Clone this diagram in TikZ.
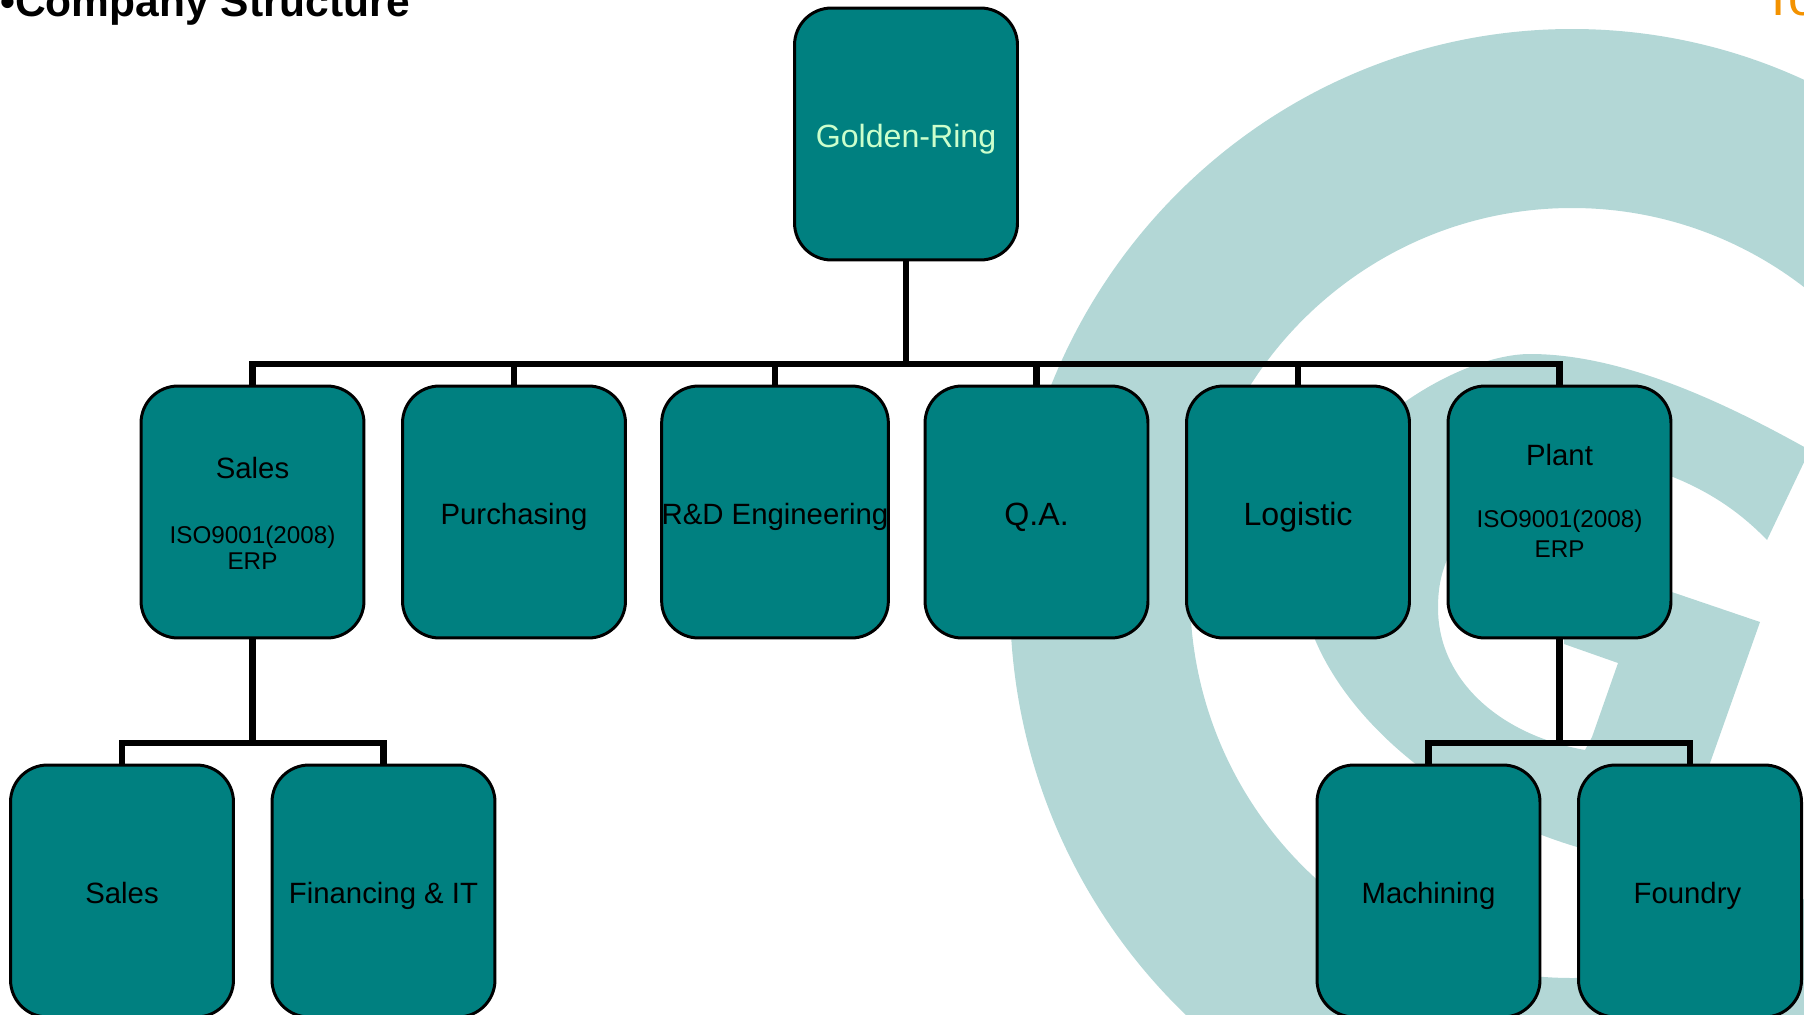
\documentclass[tikz,border=0pt]{standalone}
\usepackage{fontspec}
\setmainfont{Liberation Sans}
\definecolor{boxteal}{HTML}{008080}
\definecolor{logoteal}{HTML}{B3D7D6}
\definecolor{titleorange}{HTML}{F39200}
\definecolor{rootgreen}{HTML}{CCFFCC}
\newcommand{\isofont}{\fontsize{13.8}{15}\selectfont}
\tikzset{
	orgbox/.style = {draw = black, line width = 1.7pt, fill = boxteal, rounded corners = 0.74cm,
		minimum width = 4.46cm, minimum height = 5.04cm, inner sep = 0pt, align = center, font = \fontsize{16.7}{20}\selectfont},
	onelinebox/.style = {orgbox, text height = 13.8pt, text depth = 0pt},
	largetext/.style = {font = \fontsize{18.3}{22}\selectfont, text height = 15.2pt},
	buslink/.style = {draw = black, line width = 3.6pt, line join = miter}
}
\begin{document}
\begin{tikzpicture}[x = 0.02cm, y = -0.02cm]
	%	page setup
	\def\pagew{1804}
	\def\pageh{1014}
	\def\rowone{134}
	\def\rowtwo{512}
	\def\rowthree{891}

	\useasboundingbox (0, 0) rectangle (\pagew, \pageh);
	\clip (0, 0) rectangle (\pagew, \pageh);

	%	logo
	\fill[logoteal, even odd rule] (1572, 600) ellipse (562 and 571) (1572, 593) ellipse (382 and 385);
	\fill[logoteal] (1806, 448) .. controls (1720, 400) and (1620, 354) .. (1530, 354)
		.. controls (1450, 354) and (1300, 450) .. (1300, 570)
		.. controls (1300, 680) and (1420, 800) .. (1577, 847)
		-- (1690, 847) -- (1710, 763) -- (1760, 622) -- (1660, 588) -- (1640, 610) -- (1564, 610)
		-- (1564, 644) -- (1618, 663) -- (1592, 737) -- (1585, 750)
		.. controls (1500, 735) and (1438, 680) .. (1438, 608)
		.. controls (1438, 585) and (1442, 570) .. (1450, 553)
		-- (1560, 450) -- (1673, 477)
		.. controls (1710, 492) and (1740, 512) .. (1767, 540)
		-- (1806, 458) -- cycle;

	%	title
	\node[anchor = base west, inner sep = 0pt, font = \fontsize{24.2}{28}\bfseries\selectfont] (title) at (0, 16) {•Company Structure};
	\node[anchor = base west, inner sep = 0pt, text = titleorange, font = \fontsize{30}{34}\selectfont] (corner) at (1762, 15) {To};

	%	boxes
	\node[onelinebox, largetext, text = rootgreen] (root) at (906, \rowone) {Golden-Ring};

	\node[orgbox] (sales) at (252.5, \rowtwo) {\rule{0pt}{14pt}Sales\\[17pt]\isofont ISO9001(2008)\\[-5pt]\isofont ERP};
	\node[onelinebox] (purchasing) at (514, \rowtwo) {Purchasing};
	\node[onelinebox] (rd) at (775, \rowtwo) {R\&D Engineering};
	\node[onelinebox, largetext] (qa) at (1036.5, \rowtwo) {Q.A.};
	\node[onelinebox, largetext] (logistic) at (1298, \rowtwo) {Logistic};
	\node[orgbox] (plant) at (1559.5, \rowtwo) {Plant\\[15.5pt]\isofont ISO9001(2008)\\[-3pt]\isofont ERP\\[-7pt]\mbox{}};

	\node[onelinebox] (subsales) at (122, \rowthree) {Sales};
	\node[onelinebox] (financing) at (383.5, \rowthree) {Financing \& IT};
	\node[onelinebox] (machining) at (1428.5, \rowthree) {Machining};
	\node[onelinebox] (foundry) at (1690, \rowthree) {Foundry\hspace{3pt}};

	%	connectors
	\coordinate (busone) at (906, 364);
	\coordinate (bustwo) at (252.5, 743);
	\coordinate (busthree) at (1559.5, 743);

	\draw[buslink] (root.south) -- (busone);
	\draw[buslink] (sales.north) |- (busone) -| (plant.north);
	\foreach \target in {purchasing, rd, qa, logistic}
		\draw[buslink] (\target.north) -- (\target.north |- busone);

	\draw[buslink] (sales.south) -- (bustwo);
	\draw[buslink] (subsales.north) |- (bustwo) -| (financing.north);

	\draw[buslink] (plant.south) -- (busthree);
	\draw[buslink] (machining.north) |- (busthree) -| (foundry.north);
\end{tikzpicture}
\end{document}
